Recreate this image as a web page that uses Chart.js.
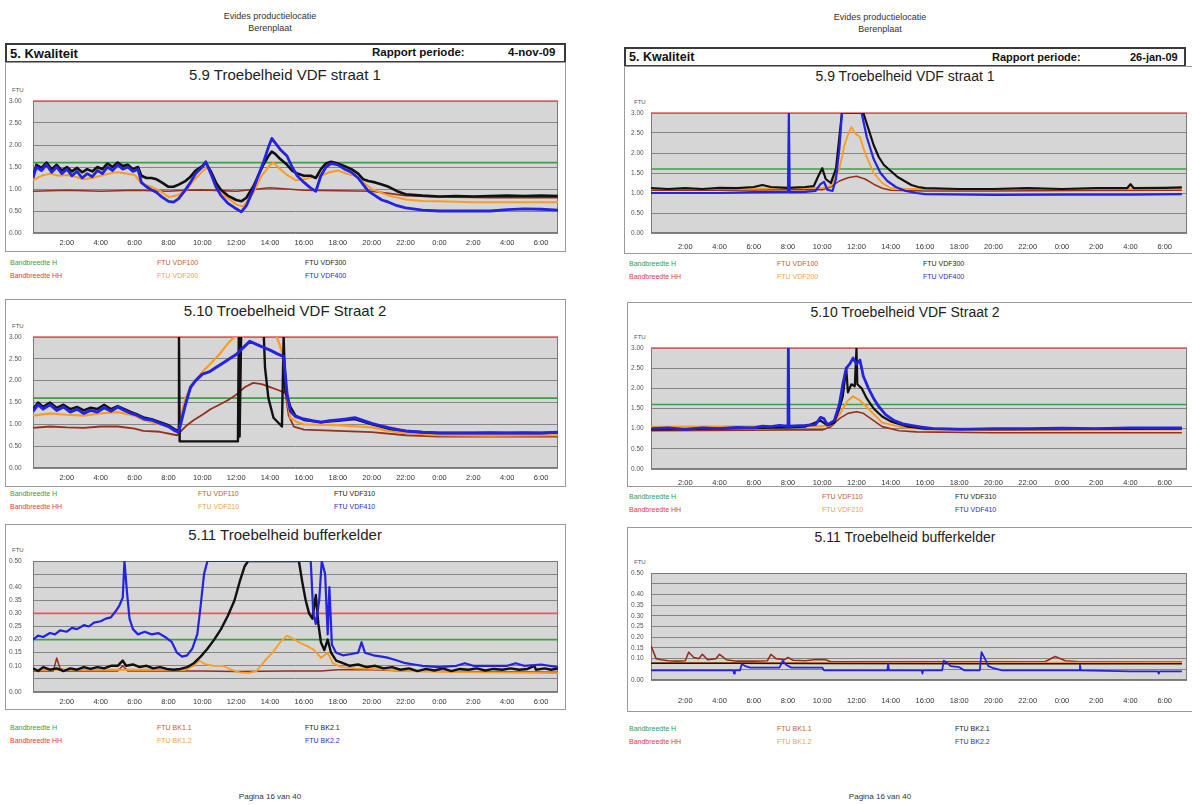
<!DOCTYPE html>
<html>
<head>
<meta charset="utf-8">
<script src="https://cdn.jsdelivr.net/npm/chart.js@4.4.1/dist/chart.umd.min.js"></script>
<style>
  body { margin: 0; width: 1192px; height: 805px; background: #fff; position: relative; overflow: hidden;
         font-family: Arial, "Liberation Sans", sans-serif; }
  .t { position: absolute; white-space: nowrap; line-height: 1; transform: translateY(-50%); }
  .c { transform: translate(-50%, -50%); }
  .hdr { font-size: 9px; color: #333; }
  .bar { position: absolute; border: 2px solid #3a3a3a; box-sizing: border-box; background: #fff; }
  .frame { position: absolute; border: 1px solid #9a9a9a; box-sizing: border-box; }
  .title { color: #222; }
  .ftu { font-size: 6px; color: #555; }
  .leg { font-size: 7px; }
  .foot { font-size: 8px; color: #333; }
  canvas { position: absolute; }
</style>
</head>
<body>
<script>
// time axis in hours from the start of the report day
const hourTicks = [2, 4, 6, 8, 10, 12, 14, 16, 18, 20, 22, 24, 26, 28, 30];
const ftuTicks = [0, 0.5, 1, 1.5, 2, 2.5, 3];
const ftuLabels = ["0.00", "0.50", "1.00", "1.50", "2.00", "2.50", "3.00"];
const bufferTicks = [0, 0.05, 0.1, 0.15, 0.2, 0.25, 0.3, 0.35, 0.4, 0.45, 0.5];
const bufferLabels = ["0.00", "", "0.10", "0.15", "0.20", "0.25", "0.30", "0.35", "0.40", "", "0.50"];

// bandwidth limits
const vdfBandH = 1.6;
const vdfBandHH = 3.0;
const bufferBandH = 0.2;
const bufferBandHH = 0.3;

// ---- 4-nov-09, VDF straat 1 ----
const nov_vdf100 = [[0,0.95],[2,0.97],[4,0.95],[6,0.97],[8,0.95],[9,0.97],[10,0.98],[12,0.95],[14,1.03],[16,0.97],[18,0.96],[20,0.95],[21,0.9],[22,0.85],[24,0.82],[27,0.8],[31,0.8]];
const nov_vdf200 = [[0,1.2],[0.5,1.3],[1,1.35],[1.5,1.3],[2,1.32],[2.5,1.28],[3,1.22],[3.5,1.25],[4,1.3],[4.5,1.35],[5,1.38],[5.5,1.35],[6,1.32],[6.4,1.12],[7,1.05],[7.5,0.95],[8,0.82],[8.5,0.85],[9,0.95],[9.5,1.2],[10,1.4],[10.3,1.5],[10.8,1.1],[11.3,0.85],[12,0.65],[12.4,0.6],[13,0.9],[13.5,1.3],[14,1.55],[14.2,1.6],[14.6,1.45],[15,1.32],[15.5,1.2],[16,1.22],[16.5,1.27],[17,1.3],[17.5,1.38],[18,1.42],[18.5,1.35],[19,1.3],[19.5,1.15],[20,1.0],[21,0.85],[22,0.76],[23,0.73],[24,0.72],[26,0.7],[28,0.7],[30,0.7],[31,0.7]];
const nov_vdf300 = [[0,1.3],[0.2,1.55],[0.5,1.48],[0.8,1.6],[1.1,1.45],[1.4,1.55],[1.7,1.42],[2,1.5],[2.3,1.4],[2.6,1.48],[2.9,1.38],[3.2,1.45],[3.5,1.4],[3.8,1.5],[4.1,1.45],[4.4,1.58],[4.7,1.5],[5,1.6],[5.3,1.52],[5.6,1.55],[5.9,1.45],[6.2,1.5],[6.4,1.3],[6.7,1.25],[7,1.25],[7.3,1.22],[7.6,1.15],[8,1.05],[8.3,1.05],[8.6,1.1],[9,1.18],[9.3,1.28],[9.6,1.42],[10,1.52],[10.2,1.6],[10.5,1.4],[10.8,1.15],[11.1,0.98],[11.5,0.85],[12,0.75],[12.3,0.72],[12.6,0.8],[13,1.05],[13.3,1.3],[13.6,1.55],[13.9,1.75],[14.1,1.85],[14.3,1.8],[14.6,1.68],[15,1.55],[15.3,1.42],[15.6,1.35],[16,1.3],[16.4,1.3],[16.7,1.25],[17,1.45],[17.3,1.58],[17.6,1.62],[18,1.58],[18.4,1.52],[18.8,1.45],[19.2,1.35],[19.5,1.22],[19.8,1.18],[20.2,1.15],[20.6,1.1],[21,1.05],[21.5,0.95],[22,0.88],[23,0.85],[24,0.83],[25,0.84],[26,0.83],[27,0.84],[28,0.85],[29,0.84],[30,0.85],[31,0.84]];
const nov_vdf400 = [[0,1.25],[0.2,1.5],[0.5,1.42],[0.8,1.55],[1.1,1.38],[1.4,1.5],[1.7,1.35],[2,1.45],[2.3,1.3],[2.6,1.4],[2.9,1.25],[3.2,1.35],[3.5,1.28],[3.8,1.42],[4.1,1.35],[4.4,1.5],[4.7,1.42],[5,1.55],[5.3,1.45],[5.6,1.5],[5.9,1.4],[6.2,1.45],[6.4,1.15],[6.7,1.05],[7,0.98],[7.3,0.92],[7.6,0.82],[8,0.72],[8.3,0.7],[8.6,0.78],[9,0.98],[9.3,1.15],[9.6,1.35],[10,1.5],[10.2,1.62],[10.5,1.35],[10.8,1.05],[11.1,0.85],[11.5,0.68],[12,0.55],[12.3,0.48],[12.6,0.62],[13,0.98],[13.3,1.3],[13.6,1.6],[13.9,1.95],[14.1,2.15],[14.3,2.05],[14.6,1.9],[15,1.75],[15.3,1.5],[15.6,1.3],[16,1.15],[16.4,1.02],[16.7,0.95],[17,1.3],[17.3,1.5],[17.6,1.58],[18,1.55],[18.4,1.45],[18.8,1.38],[19.2,1.25],[19.5,1.1],[19.8,0.95],[20.2,0.85],[20.6,0.75],[21,0.7],[21.5,0.62],[22,0.57],[23,0.52],[24,0.5],[25,0.5],[26,0.5],[27,0.5],[28,0.53],[29,0.55],[30,0.54],[31,0.52]];

// ---- 4-nov-09, VDF straat 2 ----
const nov_vdf110 = [[0,0.92],[1,0.95],[2,0.93],[3,0.92],[4,0.95],[5,0.95],[6,0.9],[6.5,0.85],[7.5,0.83],[8.5,0.75],[9,0.95],[9.5,1.1],[10,1.22],[10.5,1.35],[11,1.45],[11.5,1.55],[12,1.68],[12.5,1.85],[13,1.95],[13.5,1.92],[14,1.85],[14.5,1.78],[14.9,1.72],[15.1,1.2],[15.4,0.95],[16,0.88],[18,0.85],[20,0.82],[22,0.75],[24,0.72],[27,0.72],[31,0.72]];
const nov_vdf210 = [[0,1.2],[1,1.25],[2,1.22],[3,1.2],[4,1.25],[5,1.28],[6,1.2],[6.5,1.1],[7,1.05],[8,0.95],[8.5,0.85],[9,1.6],[9.5,1.95],[10,2.2],[10.5,2.4],[11,2.6],[11.5,2.85],[11.9,3.0],[12.4,3.0],[12.8,3.2],[14.2,3.2],[14.4,3.0],[14.8,2.55],[15.0,1.6],[15.2,1.15],[15.6,1.05],[16,1.0],[18,0.98],[20,0.93],[21,0.85],[22,0.8],[24,0.75],[27,0.74],[31,0.75]];
const nov_vdf310 = [[0,1.35],[0.3,1.5],[0.6,1.4],[1,1.5],[1.4,1.38],[1.8,1.45],[2.2,1.35],[2.6,1.4],[3,1.32],[3.4,1.38],[3.8,1.35],[4.2,1.45],[4.6,1.35],[5,1.42],[5.4,1.35],[5.8,1.28],[6.2,1.22],[6.6,1.15],[7,1.12],[7.5,1.05],[8,0.98],[8.4,0.88],[8.6,0.85],[8.62,3.0],[8.66,0.61],[12.1,0.61],[12.15,3.0],[12.2,0.72],[12.3,3.3],[13.6,3.3],[13.7,2.3],[13.9,1.6],[14.2,1.15],[14.7,0.95],[14.8,3.0],[14.9,1.75],[15.2,1.4],[15.5,1.2],[16,1.1],[17,1.05],[18,1.08],[19,1.12],[20,1.0],[21,0.9],[22,0.85],[23,0.82],[24,0.8],[26,0.8],[28,0.8],[30,0.8],[31,0.81]];
const nov_vdf410 = [[0,1.3],[0.3,1.45],[0.6,1.35],[1,1.45],[1.4,1.32],[1.8,1.4],[2.2,1.28],[2.6,1.35],[3,1.25],[3.4,1.32],[3.8,1.28],[4.2,1.38],[4.6,1.3],[5,1.4],[5.4,1.32],[5.8,1.25],[6.2,1.2],[6.6,1.12],[7,1.1],[7.5,1.02],[8,0.95],[8.4,0.85],[8.6,0.82],[9,1.45],[9.3,1.85],[9.6,2.0],[10,2.15],[10.4,2.2],[10.8,2.3],[11.2,2.4],[11.6,2.5],[12,2.6],[12.4,2.75],[12.8,2.9],[13.1,2.85],[13.5,2.78],[14,2.7],[14.4,2.62],[14.8,2.55],[15,1.7],[15.2,1.3],[15.5,1.18],[16,1.12],[16.5,1.08],[17,1.05],[17.5,1.08],[18,1.1],[18.5,1.12],[19,1.15],[19.4,1.1],[20,1.02],[20.5,0.97],[21,0.92],[21.5,0.88],[22,0.85],[23,0.82],[24,0.8],[25,0.8],[26,0.8],[27,0.81],[28,0.8],[29,0.81],[30,0.8],[31,0.82]];

// ---- 4-nov-09, bufferkelder ----
const nov_bk11 = [[0,0.08],[1.2,0.08],[1.4,0.13],[1.6,0.09],[2,0.08],[5,0.08],[5.3,0.1],[5.6,0.08],[9,0.08],[10,0.08],[12,0.078],[15,0.08],[17,0.08],[18,0.085],[20,0.085],[22,0.08],[25,0.078],[31,0.075]];
const nov_bk12 = [[0,0.085],[4,0.085],[8,0.085],[9,0.085],[9.5,0.1],[9.8,0.12],[10.2,0.105],[10.7,0.1],[11.2,0.1],[11.7,0.085],[12.2,0.075],[12.7,0.072],[13.2,0.08],[13.7,0.12],[14.2,0.155],[14.6,0.19],[15,0.215],[15.3,0.205],[15.7,0.19],[16.2,0.175],[16.6,0.16],[17,0.13],[17.4,0.15],[17.7,0.11],[18.2,0.095],[19,0.09],[20,0.088],[21,0.085],[22,0.08],[24,0.077],[27,0.075],[31,0.072]];
const nov_bk21 = [[0,0.09],[0.3,0.08],[0.6,0.095],[1,0.085],[1.4,0.09],[1.8,0.08],[2.2,0.09],[2.6,0.085],[3,0.095],[3.4,0.088],[3.8,0.095],[4.2,0.09],[4.6,0.1],[5,0.1],[5.3,0.12],[5.5,0.1],[5.9,0.105],[6.3,0.095],[6.7,0.1],[7.1,0.09],[7.5,0.095],[7.9,0.088],[8.3,0.085],[8.7,0.088],[9.1,0.095],[9.5,0.11],[9.9,0.135],[10.3,0.165],[10.7,0.2],[11.1,0.24],[11.5,0.29],[11.9,0.35],[12.2,0.42],[12.5,0.48],[12.7,0.5],[15.7,0.5],[15.9,0.42],[16.1,0.35],[16.3,0.3],[16.5,0.28],[16.7,0.37],[16.85,0.26],[17.0,0.19],[17.2,0.16],[17.4,0.2],[17.6,0.15],[17.9,0.12],[18.3,0.11],[18.7,0.1],[19.2,0.105],[19.7,0.095],[20.2,0.1],[20.7,0.09],[21.2,0.095],[21.7,0.085],[22.2,0.09],[22.7,0.08],[23.2,0.088],[23.7,0.082],[24.2,0.09],[24.7,0.08],[25.2,0.088],[25.7,0.085],[26.2,0.09],[26.7,0.082],[27.2,0.088],[27.7,0.085],[28.2,0.09],[28.7,0.085],[29.2,0.088],[29.6,0.1],[29.7,0.085],[30.2,0.09],[30.6,0.085],[31,0.09]];
const nov_bk22 = [[0,0.2],[0.3,0.215],[0.6,0.21],[1,0.225],[1.3,0.22],[1.6,0.235],[2,0.23],[2.3,0.245],[2.6,0.24],[3,0.255],[3.3,0.25],[3.6,0.265],[4,0.27],[4.3,0.28],[4.6,0.285],[4.9,0.31],[5.1,0.33],[5.3,0.36],[5.4,0.5],[5.55,0.38],[5.7,0.28],[5.9,0.24],[6.2,0.22],[6.6,0.23],[7,0.22],[7.4,0.225],[7.8,0.21],[8.2,0.19],[8.5,0.15],[8.8,0.135],[9.1,0.14],[9.4,0.165],[9.7,0.22],[9.9,0.33],[10.1,0.45],[10.3,0.5],[16.4,0.5],[16.55,0.3],[16.7,0.26],[16.9,0.35],[17.05,0.5],[17.25,0.45],[17.4,0.22],[17.5,0.4],[17.65,0.18],[17.9,0.15],[18.3,0.14],[18.8,0.145],[19.2,0.15],[19.4,0.19],[19.6,0.15],[20.1,0.14],[20.6,0.135],[21,0.13],[21.5,0.12],[22,0.11],[22.5,0.105],[23,0.1],[24,0.095],[25,0.1],[25.5,0.11],[26,0.1],[27,0.1],[28,0.1],[28.5,0.11],[29,0.1],[30,0.105],[31,0.095]];

// ---- 26-jan-09, VDF straat 1 ----
const jan_vdf100 = [[0,1.07],[4,1.07],[8,1.08],[10,1.08],[10.5,1.15],[11,1.3],[11.5,1.38],[12,1.42],[12.5,1.35],[13,1.22],[13.5,1.12],[14,1.07],[16,1.05],[20,1.05],[25,1.06],[31,1.07]];
const jan_vdf200 = [[0,1.1],[4,1.1],[8,1.12],[10,1.12],[10.5,1.18],[11,1.6],[11.3,2.2],[11.5,2.45],[11.7,2.65],[11.9,2.5],[12.2,2.4],[12.5,2.0],[13,1.5],[13.5,1.25],[14,1.12],[15,1.1],[20,1.1],[25,1.1],[31,1.12]];
const jan_vdf300 = [[0,1.12],[1,1.1],[2,1.12],[3,1.1],[4,1.13],[5,1.12],[6,1.15],[6.5,1.2],[7,1.15],[8,1.13],[9,1.15],[9.5,1.17],[9.8,1.45],[10,1.62],[10.2,1.35],[10.5,1.25],[10.8,1.6],[11,2.4],[11.15,3.0],[12.4,3.0],[12.7,2.6],[13,2.2],[13.3,1.9],[13.6,1.7],[14,1.55],[14.4,1.4],[14.8,1.3],[15.2,1.2],[15.6,1.15],[16,1.12],[18,1.1],[20,1.1],[22,1.12],[24,1.1],[26,1.12],[27.8,1.12],[28,1.22],[28.2,1.12],[30,1.13],[31,1.14]];
const jan_vdf400 = [[0,1.0],[2,1.0],[4,1.0],[6,1.02],[8,1.03],[8.05,3.0],[8.1,1.02],[9,1.03],[9.6,1.05],[9.9,1.22],[10.1,1.28],[10.3,1.08],[10.6,1.05],[10.8,1.35],[11,2.1],[11.15,3.0],[12.3,3.0],[12.6,2.4],[13,1.85],[13.4,1.5],[13.8,1.3],[14.3,1.15],[14.8,1.06],[15.5,1.0],[16,0.97],[20,0.95],[24,0.96],[28,0.96],[31,0.97]];

// ---- 26-jan-09, VDF straat 2 ----
const jan_vdf110 = [[0,0.95],[6,0.96],[8,0.97],[10,0.97],[10.5,1.05],[11,1.25],[11.5,1.38],[12,1.42],[12.4,1.38],[13,1.2],[13.5,1.05],[14.5,0.95],[15.5,0.92],[20,0.9],[31,0.9]];
const jan_vdf210 = [[0,1.05],[6,1.06],[8,1.06],[10,1.06],[10.5,1.1],[11,1.35],[11.5,1.7],[11.8,1.8],[12.2,1.7],[12.8,1.45],[13.5,1.15],[14.5,1.05],[16,0.98],[20,0.97],[31,0.98]];
const jan_vdf310 = [[0,0.98],[4,1.0],[8,1.03],[9,1.05],[9.9,1.2],[10.3,1.08],[10.7,1.15],[11,1.5],[11.2,1.8],[11.4,2.5],[11.5,1.9],[11.7,2.1],[11.9,2.05],[12.0,3.0],[12.05,2.1],[12.3,2.0],[12.6,1.75],[13,1.5],[13.5,1.3],[14,1.18],[15,1.05],[16,1.0],[20,0.98],[31,1.0]];
const jan_vdf410 = [[0,1.0],[1,1.02],[2,0.98],[3,1.02],[4,1.0],[5,1.03],[6,1.02],[6.5,1.06],[7,1.05],[7.5,1.08],[8,1.06],[8.02,3.0],[8.06,1.06],[9,1.08],[9.6,1.1],[9.9,1.28],[10.1,1.25],[10.3,1.1],[10.7,1.2],[11,1.6],[11.2,2.1],[11.4,2.5],[11.6,2.6],[11.8,2.75],[12,2.6],[12.2,2.7],[12.4,2.3],[12.7,2.0],[13,1.75],[13.3,1.55],[13.7,1.35],[14.2,1.2],[14.7,1.12],[15.2,1.08],[15.8,1.04],[16.5,1.0],[18,0.98],[20,1.0],[22,1.0],[24,1.01],[26,1.0],[28,1.02],[30,1.02],[31,1.02]];

// ---- 26-jan-09, bufferkelder ----
const jan_bk11 = [[0,0.16],[0.3,0.1],[0.6,0.095],[1,0.09],[1.5,0.088],[2,0.09],[2.2,0.13],[2.5,0.105],[2.8,0.1],[3,0.12],[3.3,0.095],[3.8,0.1],[4,0.12],[4.4,0.095],[5,0.088],[6,0.088],[6.8,0.09],[7,0.12],[7.3,0.1],[7.8,0.095],[8,0.105],[8.3,0.092],[9,0.09],[9.5,0.095],[10.2,0.095],[10.5,0.085],[12,0.085],[16,0.085],[20,0.085],[23,0.085],[23.6,0.11],[24.2,0.09],[25,0.085],[28,0.085],[31,0.085]];
const jan_bk12 = [[0,0.08],[10,0.08],[20,0.08],[31,0.082]];
const jan_bk21 = [[0,0.078],[5,0.078],[10,0.077],[20,0.076],[31,0.076]];
const jan_bk22 = [[0,0.045],[4.8,0.045],[4.85,0.03],[4.9,0.045],[5.2,0.045],[5.3,0.075],[5.5,0.065],[5.8,0.058],[7.5,0.058],[7.7,0.09],[7.9,0.07],[8.2,0.058],[10,0.058],[10.1,0.045],[13.8,0.045],[13.85,0.075],[13.9,0.045],[15.8,0.045],[15.85,0.03],[15.9,0.045],[17,0.045],[17.1,0.09],[17.3,0.08],[17.5,0.065],[18,0.06],[18.3,0.045],[19.2,0.045],[19.3,0.13],[19.5,0.1],[19.7,0.065],[20,0.055],[20.5,0.045],[23,0.045],[25,0.045],[25.05,0.07],[25.1,0.045],[28,0.04],[29.6,0.04],[29.65,0.03],[29.7,0.04],[31,0.04]];

const FONT = 'Arial, "Liberation Sans", sans-serif';
const COL = {
  green: "#3a9f45", red: "#e5585c", brown: "#96301e", orange: "#ff9b22", black: "#111111", blue: "#2323e0"
};
const LEGCOL = {
  green: "#2f9e55", red: "#e23c3c", brown: "#c85c30", orange: "#f2a448", black: "#222222", blue: "#2b2bd2"
};

function page(p) {
  const add = (cls, text, x, y, extra) => {
    const d = document.createElement("div");
    d.className = "t " + cls;
    d.textContent = text;
    d.style.left = x + "px";
    d.style.top = y + "px";
    if (extra) Object.assign(d.style, extra);
    document.body.appendChild(d);
    return d;
  };
  add("hdr c", "Evides productielocatie", p.cx, p.headY);
  add("hdr c", "Berenplaat", p.cx, p.headY + 12);
  add("foot c", "Pagina 16 van 40", p.cx, 797);

  const bar = document.createElement("div");
  bar.className = "bar";
  Object.assign(bar.style, { left: p.bar.x + "px", top: p.bar.y + "px", width: p.bar.w + "px", height: p.bar.h + "px" });
  document.body.appendChild(bar);
  const mid = p.bar.y + p.bar.h / 2;
  const bold = (sz) => ({ fontSize: sz + "px", fontWeight: "bold", color: "#111" });
  add("", "5. Kwaliteit", p.bar.x + 5, mid, bold(p.barFont + 1.5));
  add("", "Rapport periode:", p.bar.x + p.bar.w - 194, mid, bold(p.barFont));
  add("", p.date, p.bar.x + p.bar.w - p.dateOff, mid, bold(p.barFont));

  p.panels.forEach((c) => {
    const f = document.createElement("div");
    f.className = "frame";
    Object.assign(f.style, { left: c.frame.x + "px", top: c.frame.y + "px", width: c.frame.w + "px", height: c.frame.h + "px" });
    document.body.appendChild(f);
    add("title c", c.title, c.titleX, c.titleY, { fontSize: p.titleFont + "px" });
    add("ftu", "FTU", c.plot.l - c.axisW + 3, c.plot.t - 11);

    // legend: limits in the first column, then two series per column
    const legend = [
      ["Bandbreedte H", LEGCOL.green], ["Bandbreedte HH", LEGCOL.red],
      [c.series[0].label, LEGCOL[c.series[0].color]], [c.series[1].label, LEGCOL[c.series[1].color]],
      [c.series[2].label, LEGCOL[c.series[2].color]], [c.series[3].label, LEGCOL[c.series[3].color]]
    ];
    legend.forEach(([txt, col], i) => {
      add("leg", txt, c.legX[Math.floor(i / 2)], c.legY + (i % 2) * 12.5, { color: col });
    });

    drawPanel(c);
  });
}

const plotBox = {
  id: "plotBox",
  beforeDraw(chart) {
    const { ctx, chartArea: a } = chart;
    ctx.save();
    ctx.fillStyle = "#d6d6d6";
    ctx.fillRect(a.left, a.top, a.width, a.height);
    ctx.restore();
  },
  beforeDatasetsDraw(chart) {
    const { ctx, chartArea: a } = chart;
    ctx.save();
    ctx.strokeStyle = "#7a7a7a";
    ctx.lineWidth = 1;
    ctx.strokeRect(a.left + 0.5, a.top + 0.5, a.width - 1, a.height - 1);
    ctx.restore();
  }
};

function drawPanel(c) {
  const left = c.plot.l - c.axisW;
  const top = c.plot.t - 4;
  const w = c.plot.r + 4 - left;
  const h = c.plot.b + 34 - top;
  const cv = document.createElement("canvas");
  cv.width = w;
  cv.height = h;
  Object.assign(cv.style, { left: left + "px", top: top + "px", width: w + "px", height: h + "px" });
  document.body.appendChild(cv);

  const pts = (arr) => arr.map(([x, y]) => ({ x, y }));
  const flat = (v) => [{ x: 0, y: v }, { x: c.xMax, y: v }];

  const datasets = [];
  // first dataset ends up on top
  [3, 2, 1, 0].forEach((i) => {
    const s = c.series[i];
    datasets.push({ label: s.label, data: pts(s.data), borderColor: COL[s.color], borderWidth: s.width });
  });
  if (c.bandH !== null) {
    datasets.push({ label: "Bandbreedte H", data: flat(c.bandH), borderColor: COL.green, borderWidth: 1.6 });
    datasets.push({ label: "Bandbreedte HH", data: flat(c.bandHH), borderColor: COL.red, borderWidth: 1.6, clip: 2 });
  }

  const chart = new Chart(cv, {
    type: "line",
    data: { datasets },
    options: {
      responsive: false,
      animation: false,
      layout: { padding: { top: 4, right: 4, left: 0, bottom: 0 } },
      elements: { point: { radius: 0 }, line: { tension: 0, borderJoinStyle: "round" } },
      plugins: { legend: { display: false }, tooltip: { enabled: false } },
      scales: {
        x: {
          type: "linear",
          min: 0,
          max: c.xMax,
          afterBuildTicks: (s) => { s.ticks = hourTicks.map((v) => ({ value: v })); },
          grid: { display: false, drawTicks: false },
          border: { display: false },
          ticks: {
            autoSkip: false, maxRotation: 0, padding: c.xPad,
            color: "#333", font: { family: FONT, size: 7.5 },
            callback: (v) => (v % 24) + ":00"
          }
        },
        y: {
          min: 0,
          max: c.yMax,
          afterBuildTicks: (s) => { s.ticks = c.yTicks.map((v) => ({ value: v })); },
          afterFit: (s) => { s.width = c.axisW; },
          grid: { color: "#858585", lineWidth: 1, drawTicks: false },
          border: { display: false },
          ticks: {
            autoSkip: false, crossAlign: "far", padding: 0,
            color: "#555", font: { family: FONT, size: 6.5 },
            callback: (v, i) => c.yLabels[i]
          }
        }
      }
    },
    plugins: [plotBox]
  });

  // pull the plot bottom up to where the frame expects it
  const want = c.plot.b - top;
  const extra = chart.chartArea.bottom - want;
  if (Math.abs(extra) > 0.5) {
    chart.options.layout.padding.bottom = Math.max(0, extra);
    chart.update();
  }
}

const vdfSeries = (a, b, cc, d, names, wd) => [
  { label: names[0], color: "brown", data: a, width: wd[0] },
  { label: names[1], color: "orange", data: b, width: wd[1] },
  { label: names[2], color: "black", data: cc, width: wd[2] },
  { label: names[3], color: "blue", data: d, width: wd[3] }
];

page({
  cx: 270, headY: 16, date: "4-nov-09", dateOff: 58, barFont: 11.5, titleFont: 15,
  bar: { x: 5, y: 43, w: 561, h: 20 },
  panels: [
    {
      title: "5.9 Troebelheid VDF straat 1", titleX: 285, titleY: 74,
      frame: { x: 5, y: 62, w: 561, h: 190 },
      plot: { l: 33, t: 101, r: 558, b: 233 }, axisW: 24, xMax: 31, xPad: 5,
      yMax: 3, yTicks: ftuTicks, yLabels: ftuLabels, bandH: vdfBandH, bandHH: vdfBandHH,
      series: vdfSeries(nov_vdf100, nov_vdf200, nov_vdf300, nov_vdf400, ["FTU VDF100", "FTU VDF200", "FTU VDF300", "FTU VDF400"], [1.6, 2, 2.6, 2.8]),
      legX: [10, 157, 305], legY: 262
    },
    {
      title: "5.10 Troebelheid VDF Straat 2", titleX: 285, titleY: 310,
      frame: { x: 5, y: 299, w: 561, h: 188 },
      plot: { l: 33, t: 337, r: 558, b: 468 }, axisW: 24, xMax: 31, xPad: 5,
      yMax: 3, yTicks: ftuTicks, yLabels: ftuLabels, bandH: vdfBandH, bandHH: vdfBandHH,
      series: vdfSeries(nov_vdf110, nov_vdf210, nov_vdf310, nov_vdf410, ["FTU VDF110", "FTU VDF210", "FTU VDF310", "FTU VDF410"], [1.8, 2.2, 2.4, 3]),
      legX: [10, 198, 334], legY: 493
    },
    {
      title: "5.11 Troebelheid bufferkelder", titleX: 285, titleY: 534,
      frame: { x: 5, y: 524, w: 561, h: 186 },
      plot: { l: 33, t: 561, r: 558, b: 692 }, axisW: 24, xMax: 31, xPad: 5,
      yMax: 0.5, yTicks: bufferTicks, yLabels: bufferLabels, bandH: bufferBandH, bandHH: bufferBandHH,
      series: vdfSeries(nov_bk11, nov_bk12, nov_bk21, nov_bk22, ["FTU BK1.1", "FTU BK1.2", "FTU BK2.1", "FTU BK2.2"], [1.5, 1.8, 2.4, 2.2]),
      legX: [10, 157, 305], legY: 727
    }
  ]
});

page({
  cx: 880, headY: 17, date: "26-jan-09", dateOff: 56, barFont: 11, titleFont: 14,
  bar: { x: 624, y: 47, w: 562, h: 20 },
  panels: [
    {
      title: "5.9 Troebelheid VDF straat 1", titleX: 905, titleY: 76,
      frame: { x: 624, y: 66, w: 600, h: 188 },
      plot: { l: 651, t: 113, r: 1187, b: 233 }, axisW: 20, xMax: 31.3, xPad: 9,
      yMax: 3, yTicks: ftuTicks, yLabels: ftuLabels, bandH: vdfBandH, bandHH: vdfBandHH,
      series: vdfSeries(jan_vdf100, jan_vdf200, jan_vdf300, jan_vdf400, ["FTU VDF100", "FTU VDF200", "FTU VDF300", "FTU VDF400"], [1.5, 1.8, 2.2, 2.2]),
      legX: [629, 777, 923], legY: 263
    },
    {
      title: "5.10 Troebelheid VDF Straat 2", titleX: 905, titleY: 312,
      frame: { x: 627, y: 302, w: 600, h: 185 },
      plot: { l: 651, t: 348, r: 1187, b: 469 }, axisW: 20, xMax: 31.3, xPad: 9,
      yMax: 3, yTicks: ftuTicks, yLabels: ftuLabels, bandH: vdfBandH, bandHH: vdfBandHH,
      series: vdfSeries(jan_vdf110, jan_vdf210, jan_vdf310, jan_vdf410, ["FTU VDF110", "FTU VDF210", "FTU VDF310", "FTU VDF410"], [1.6, 2, 2.2, 2.8]),
      legX: [629, 822, 955], legY: 496
    },
    {
      title: "5.11 Troebelheid bufferkelder", titleX: 905, titleY: 537,
      frame: { x: 627, y: 527, w: 600, h: 185 },
      plot: { l: 651, t: 573, r: 1187, b: 687 }, axisW: 20, xMax: 31.3, xPad: 16,
      yMax: 0.5, yTicks: bufferTicks, yLabels: bufferLabels, bandH: null, bandHH: null,
      series: vdfSeries(jan_bk11, jan_bk12, jan_bk21, jan_bk22, ["FTU BK1.1", "FTU BK1.2", "FTU BK2.1", "FTU BK2.2"], [1.6, 2, 1.6, 1.8]),
      legX: [629, 777, 955], legY: 728
    }
  ]
});
</script>
</body>
</html>
